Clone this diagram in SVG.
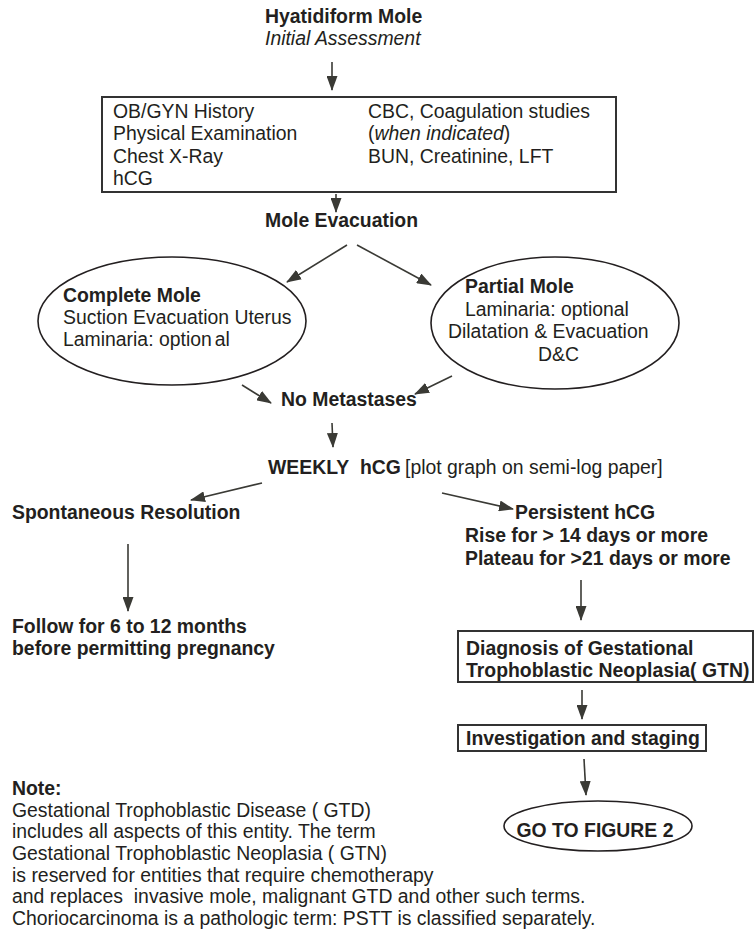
<svg xmlns="http://www.w3.org/2000/svg" width="754" height="931" viewBox="0 0 754 931">
<style>
text{font-family:"Liberation Sans",Arial,sans-serif;font-size:19.4px;fill:#231f20}
.b{font-weight:bold}
.i{font-style:italic}
.box{fill:#fff;stroke:#333;stroke-width:2}
.ell{fill:#fff;stroke:#231f20;stroke-width:1.6}
.con line{stroke:#3a3a35;stroke-width:1.6;marker-end:url(#ah)}
</style>
<defs>
<marker id="ah" markerUnits="userSpaceOnUse" markerWidth="15" markerHeight="11" refX="14" refY="5.5" orient="auto" viewBox="0 0 15 11">
<path d="M0,0 L15,5.5 L0,11 z" fill="#3a3a35"/>
</marker>
</defs>
<rect width="754" height="931" fill="#fff"/>
<g id="title">
<text class="b" x="265" y="23">Hyatidiform Mole</text>
<text class="i" x="265" y="45">Initial Assessment</text>
</g>
<g id="assessment">
<rect class="box" x="102" y="97" width="514" height="95"/>
<text x="113" y="118">OB/GYN History</text>
<text x="113" y="140">Physical Examination</text>
<text x="113" y="163">Chest X-Ray</text>
<text x="113" y="185">hCG</text>
<text x="368" y="118">CBC, Coagulation studies</text>
<text x="368" y="140">(<tspan class="i">when indicated</tspan>)</text>
<text x="368" y="163">BUN, Creatinine, LFT</text>
</g>
<g id="evacuation">
<text class="b" x="265" y="227">Mole Evacuation</text>
</g>
<g id="complete">
<ellipse class="ell" cx="172" cy="321" rx="134" ry="64"/>
<text class="b" x="63" y="302">Complete Mole</text>
<text x="63" y="324">Suction Evacuation Uterus</text>
<text x="63" y="346">Laminaria: option<tspan dx="3">al</tspan></text>
</g>
<g id="partial">
<ellipse class="ell" cx="555" cy="323" rx="124" ry="66"/>
<text class="b" x="465" y="293">Partial Mole</text>
<text x="465" y="316">Laminaria: optional</text>
<text x="448" y="338">Dilatation &amp; Evacuation</text>
<text x="538" y="361">D&amp;C</text>
</g>
<g id="nomet">
<text class="b" x="281" y="406">No Metastases</text>
</g>
<g id="weekly">
<text x="268" y="474"><tspan class="b">WEEKLY</tspan><tspan class="b" x="360">hCG</tspan><tspan x="405">[plot graph on semi-log paper]</tspan></text>
</g>
<g id="spont">
<text class="b" x="12" y="519">Spontaneous Resolution</text>
</g>
<g id="persist">
<text class="b" x="515" y="519">Persistent hCG</text>
<text class="b" x="465" y="542">Rise for &gt; 14 days or more</text>
<text class="b" x="465" y="565">Plateau for &gt;21 days or more</text>
</g>
<g id="follow">
<text class="b" x="12" y="633">Follow for 6 to 12 months</text>
<text class="b" x="12" y="655">before permitting pregnancy</text>
</g>
<g id="diagnosis">
<rect class="box" x="458" y="631" width="295" height="51"/>
<text class="b" x="466" y="655">Diagnosis of Gestational</text>
<text class="b" x="466" y="677">Trophoblastic Neoplasia( GTN)</text>
</g>
<g id="staging">
<rect class="box" x="458" y="725" width="248" height="26"/>
<text class="b" x="466" y="745">Investigation and staging</text>
</g>
<g id="goto">
<ellipse class="ell" cx="598" cy="826" rx="94" ry="25"/>
<text class="b" x="595" y="837" text-anchor="middle">GO TO FIGURE 2</text>
</g>
<g id="note">
<text class="b" x="12" y="795">Note:</text>
<text x="12" y="817">Gestational Trophoblastic Disease ( GTD)</text>
<text x="12" y="838">includes all aspects of this entity. The term</text>
<text x="12" y="860">Gestational Trophoblastic Neoplasia ( GTN)</text>
<text x="12" y="882">is reserved for entities that require chemotherapy</text>
<text x="12" y="903" xml:space="preserve">and replaces  invasive mole, malignant GTD and other such terms.</text>
<text x="12" y="925">Choriocarcinoma is a pathologic term: PSTT is classified separately.</text>
</g>
<g id="connectors" class="con">
<line x1="332" y1="62" x2="332" y2="90"/>
<line x1="336" y1="194" x2="336" y2="212"/>
<line x1="347" y1="245" x2="287" y2="282"/>
<line x1="357" y1="245" x2="431" y2="285"/>
<line x1="242" y1="385" x2="271" y2="403"/>
<line x1="452" y1="376" x2="415" y2="394"/>
<line x1="332" y1="423" x2="333" y2="447"/>
<line x1="262" y1="483" x2="191" y2="500"/>
<line x1="442" y1="493" x2="513" y2="509"/>
<line x1="128" y1="544" x2="128" y2="611"/>
<line x1="581" y1="580" x2="581" y2="620"/>
<line x1="582" y1="690" x2="582" y2="719"/>
<line x1="584" y1="759" x2="586" y2="795"/>
</g>
</svg>
